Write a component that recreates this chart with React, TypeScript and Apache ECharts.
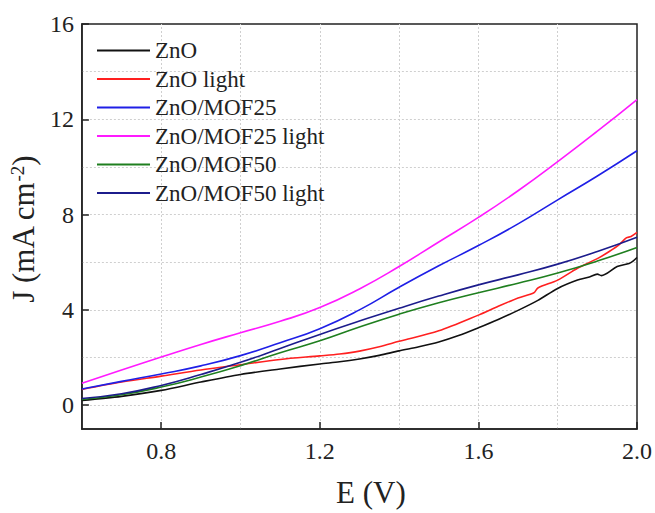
import React, { useEffect, useRef } from "react";
import * as echarts from "echarts";

const V = [0.6, 0.7, 0.8, 0.9, 1.0, 1.1, 1.2, 1.3, 1.4, 1.5, 1.6, 1.7, 1.8, 1.9, 2.0];
const pinkJ = [0.92, 1.48, 2.02, 2.55, 3.04, 3.52, 4.1, 4.88, 5.82, 6.85, 7.88, 9.0, 10.22, 11.5, 12.83];
const blueJ = [0.68, 1.0, 1.31, 1.65, 2.08, 2.62, 3.21, 4.0, 4.95, 5.85, 6.7, 7.61, 8.62, 9.62, 10.68];
const navyJ = [0.28, 0.48, 0.83, 1.29, 1.8, 2.38, 2.97, 3.53, 4.07, 4.58, 5.05, 5.47, 5.92, 6.45, 7.05];
const greenJ = [0.24, 0.44, 0.76, 1.18, 1.66, 2.2, 2.7, 3.28, 3.82, 4.3, 4.72, 5.12, 5.55, 6.05, 6.62];

const redV = [0.6, 0.7, 0.8, 0.9, 1.0, 1.1, 1.2, 1.25, 1.3, 1.35, 1.4, 1.5, 1.6, 1.65, 1.7, 1.74, 1.75, 1.8, 1.85, 1.9, 1.93, 1.956, 1.973, 1.985, 2.0];
const redJ = [0.66, 0.97, 1.22, 1.48, 1.7, 1.92, 2.07, 2.15, 2.27, 2.45, 2.68, 3.12, 3.78, 4.15, 4.5, 4.72, 4.92, 5.25, 5.75, 6.15, 6.45, 6.75, 7.02, 7.08, 7.25];

const blackV = [0.6, 0.7, 0.8, 0.9, 1.0, 1.1, 1.2, 1.25, 1.3, 1.35, 1.4, 1.45, 1.5, 1.55, 1.6, 1.65, 1.7, 1.75, 1.8, 1.85, 1.88, 1.9, 1.91, 1.95, 1.98, 1.99, 2.0];
const blackJ = [0.2, 0.37, 0.62, 0.97, 1.29, 1.52, 1.73, 1.82, 1.94, 2.09, 2.28, 2.45, 2.65, 2.92, 3.25, 3.6, 3.98, 4.4, 4.9, 5.25, 5.38, 5.5, 5.44, 5.82, 5.95, 6.05, 6.2];

const names = ["ZnO", "ZnO light", "ZnO/MOF25", "ZnO/MOF25 light", "ZnO/MOF50", "ZnO/MOF50 light"];
const colors = ["#111111", "#ff2020", "#1f1fe6", "#ff1aff", "#1f7f1f", "#1c1c8c"];

const xTicks = [0.8, 1.2, 1.6, 2.0];
const yTicks = [0, 4, 8, 12, 16];
const xGrid = [0.8, 1.0, 1.2, 1.4, 1.6, 1.8];
const yGrid = [0, 2, 4, 6, 8, 10, 12, 14];

const FONT = "Liberation Serif";

const pairs = (xs: number[], ys: number[]) => xs.map((x, i) => [x, ys[i]]);

export default function App() {
  const ref = useRef<HTMLDivElement>(null);
  useEffect(() => {
    if (!ref.current) return;
    const chart = echarts.init(ref.current, null, { renderer: "svg" });
    const datas = [
      pairs(blackV, blackJ),
      pairs(redV, redJ),
      pairs(V, blueJ),
      pairs(V, pinkJ),
      pairs(V, greenJ),
      pairs(V, navyJ),
    ];
    const smooth = [0.3, 0.3, true, true, true, true];
    const series: any[] = [
      {
        name: "__grid",
        type: "line",
        data: [],
        silent: true,
        z: 0,
        markLine: {
          silent: true,
          z: 0,
          symbol: ["none", "none"],
          label: { show: false },
          lineStyle: { color: "#cfcfcf", type: [2, 2], width: 1 },
          data: [
            ...yGrid.map((v) => ({ yAxis: v })),
            ...xGrid.map((v) => ({ xAxis: v })),
          ],
        },
      },
      ...names.map((n, i) => ({
        name: n,
        type: "line",
        data: datas[i],
        showSymbol: false,
        smooth: smooth[i],
        lineStyle: { color: colors[i], width: 1.6 },
        itemStyle: { color: colors[i] },
        z: 3,
      })),
    ];
    chart.setOption({
      animation: false,
      backgroundColor: "#ffffff",
      textStyle: { fontFamily: FONT },
      grid: {
        left: 80,
        right: 18,
        top: 24,
        bottom: 79,
        show: true,
        borderColor: "#222",
        borderWidth: 1.5,
      },
      legend: {
        data: names,
        orient: "vertical",
        left: 92,
        top: 34,
        icon: "rect",
        itemWidth: 53,
        itemHeight: 2,
        itemGap: 5.5,
        textStyle: { fontFamily: FONT, fontSize: 23, color: "#222", lineHeight: 23 },
      },
      xAxis: {
        type: "value",
        min: 0.6,
        max: 2.0,
        name: "E (V)",
        nameLocation: "middle",
        nameGap: 48,
        nameTextStyle: { fontFamily: FONT, fontSize: 31, color: "#222", padding: [0, 0, 0, 23] },
        axisLine: { show: true, onZero: false, lineStyle: { color: "#222", width: 1.5 } },
        axisTick: { show: true, inside: true, length: 7, customValues: xTicks, lineStyle: { color: "#222", width: 1.5 } },
        axisLabel: {
          customValues: xTicks,
          margin: 10,
          fontFamily: FONT,
          fontSize: 24,
          color: "#222",
          formatter: (v: number) => v.toFixed(1),
        },
        splitLine: { show: false },
      },
      yAxis: {
        type: "value",
        min: -1,
        max: 16,
        name: "J (mA cm{sup|-2})",
        nameLocation: "middle",
        nameRotate: 90,
        nameGap: 31,
        nameTextStyle: {
          fontFamily: FONT,
          fontSize: 31,
          color: "#222",
          padding: [0, 6, 0, 0],
          rich: {
            sup: { fontFamily: FONT, fontSize: 19, color: "#222", verticalAlign: "top", lineHeight: 18 },
          },
        },
        axisLine: { show: true, onZero: false, lineStyle: { color: "#222", width: 1.5 } },
        axisTick: { show: true, inside: true, length: 7, customValues: yTicks, lineStyle: { color: "#222", width: 1.5 } },
        axisLabel: {
          customValues: yTicks,
          margin: 8,
          fontFamily: FONT,
          fontSize: 24,
          color: "#222",
        },
        splitLine: { show: false },
      },
      series,
    });
    return () => chart.dispose();
  }, []);
  return <div ref={ref} style={{ width: 655, height: 513, position: "absolute", left: 0, top: 0 }} />;
}
